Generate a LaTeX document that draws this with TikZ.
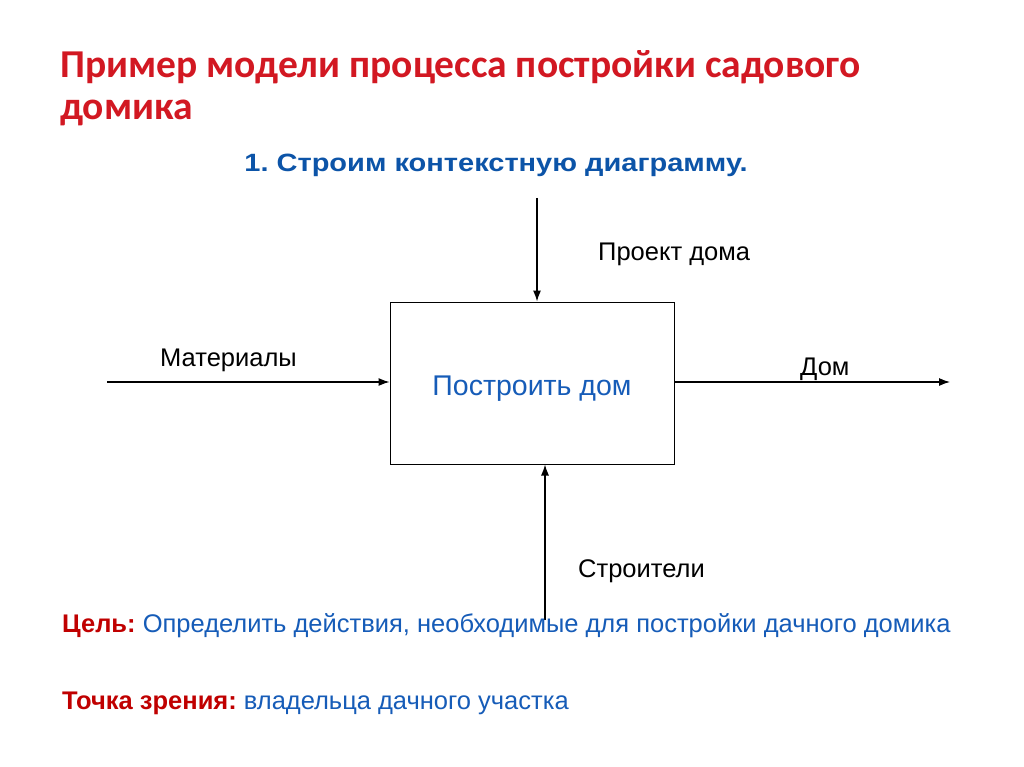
\documentclass[tikz,border=0pt]{standalone}
\usepackage{fontspec}
\setmainfont{Liberation Sans}
\newfontfamily\titlefont{Carlito}
\usetikzlibrary{arrows.meta}
\frenchspacing
\definecolor{titlered}{RGB}{210,24,34}
\definecolor{subblue}{RGB}{12,84,168}
\definecolor{textblue}{RGB}{22,92,184}
\definecolor{labred}{RGB}{192,0,0}
\tikzset{
  x=1pt, y=-1pt,
  flow/.style={draw=black, line width=1.2pt, -{Latex[length=11pt,width=8pt]}},
  lbl/.style={font=\fontsize{25.5}{30}\selectfont, text=black, inner sep=0pt, anchor=base west},
  procbox/.style={draw=black, line width=1pt, minimum width=284pt, minimum height=162pt, inner sep=0pt},
  ttl/.style={font=\titlefont\bfseries\fontsize{39.5}{46}\selectfont, text=titlered, anchor=base west, inner sep=0pt},
  note/.style={font=\frenchspacing\fontsize{25.5}{29}\selectfont, anchor=base west, inner sep=0pt},
}
\begin{document}
\begin{tikzpicture}
\useasboundingbox (0,0) rectangle (1024,767);
\fill[white] (0,0) rectangle (1024,767);
% title
\node[ttl] (t1) at (60,78) {Пример модели процесса постройки садового};
\node[ttl] (t2) at (60,120) {домика};
\node[font=\frenchspacing\bfseries\fontsize{25}{30}\selectfont, text=subblue, inner sep=0pt, anchor=base, xscale=1.16] (sub) at (496,172) {1. Строим контекстную диаграмму.};
% box
\node[procbox] (box) at (532,383) {};
\node[font=\fontsize{28.5}{33}\selectfont, text=textblue, inner sep=0pt, anchor=base] (boxtxt) at (532,395) {Построить дом};
% connector ends
\coordinate (ctop) at (537,198);
\coordinate (cbot) at (545,620);
\coordinate (inl) at (107,382);
\coordinate (outr) at (950,382);
\draw[flow] (ctop) -- (ctop |- box.north);
\draw[flow] (cbot) -- (cbot |- box.south);
\draw[flow] (inl) -- (inl -| box.west);
\draw[flow] (outr -| box.east) -- (outr);
% labels
\node[lbl] (lproj) at (598,260) {Проект дома};
\node[lbl] (lmat) at (160,366) {Материалы};
\node[lbl] (ldom) at (800,375) {Дом};
\node[lbl] (lbld) at (578,577) {Строители};
% notes
\node[note] (goal) at (62,632) {\textcolor{labred}{\bfseries Цель:} \textcolor{textblue}{Определить действия, необходимые для постройки дачного домика}};
\node[note] (view) at (62,709) {\textcolor{labred}{\bfseries Точка зрения:} \textcolor{textblue}{владельца дачного участка}};
\end{tikzpicture}
\end{document}
